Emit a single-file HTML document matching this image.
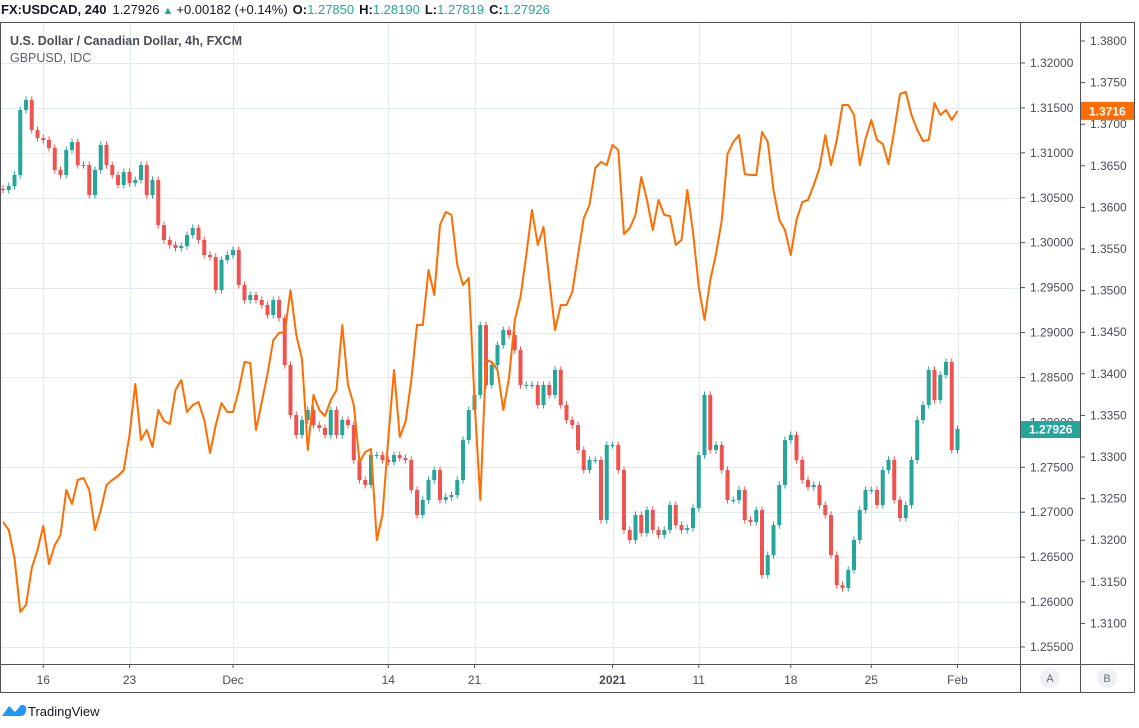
<!DOCTYPE html>
<html><head><meta charset="utf-8">
<style>
html,body{margin:0;padding:0;background:#fff;}
body{width:1139px;height:723px;overflow:hidden;font-family:"Liberation Sans",sans-serif;}
svg text{font-family:"Liberation Sans",sans-serif;}
</style></head>
<body>
<svg id="chart" width="1139" height="723" viewBox="0 0 1139 723" xmlns="http://www.w3.org/2000/svg">
  <g>
    <text x="1" y="14" font-size="13" fill="#131722"><tspan font-weight="bold">FX:USDCAD, 240</tspan><tspan dx="6">1.27926</tspan><tspan dx="3" fill="#26a69a" font-size="11">▲</tspan><tspan dx="3">+0.00182 (+0.14%)</tspan><tspan dx="5" font-weight="bold">O:</tspan><tspan fill="#26a69a">1.27850</tspan><tspan dx="5" font-weight="bold">H:</tspan><tspan fill="#26a69a">1.28190</tspan><tspan dx="5" font-weight="bold">L:</tspan><tspan fill="#26a69a">1.27819</tspan><tspan dx="5" font-weight="bold">C:</tspan><tspan fill="#26a69a">1.27926</tspan></text>
  </g>
  <g id="grid"></g>
  <g id="candles"></g>
  <path id="gbpLine" fill="none" stroke="#ff6d00" stroke-width="2" stroke-linejoin="round"/>
  <g>
    <text x="10" y="45" font-size="12.5" font-weight="bold" fill="#4a4d57">U.S. Dollar / Canadian Dollar, 4h, FXCM</text>
    <text x="10" y="62" font-size="12.5" fill="#5d606b">GBPUSD, IDC</text>
  </g>
  <g stroke="#50535e" stroke-width="1" fill="none">
    <line x1="0.5" y1="22" x2="0.5" y2="693"/>
    <line x1="0" y1="22.5" x2="1134" y2="22.5"/>
    <line x1="1020.5" y1="22" x2="1020.5" y2="693"/>
    <line x1="1080.5" y1="22" x2="1080.5" y2="693"/>
    <line x1="1134.5" y1="22" x2="1134.5" y2="693"/>
    <line x1="0" y1="664.5" x2="1134" y2="664.5"/>
    <line x1="0" y1="692.5" x2="1134" y2="692.5"/>
  </g>
  <g id="axisA"></g>
  <g id="axisB"></g>
  <g id="axisX"></g>
  <g id="lastA"></g>
  <g id="lastB"></g>
  <g>
    <circle cx="1050" cy="678" r="10" fill="#eef0f5"/>
    <text x="1050" y="682" font-size="11" text-anchor="middle" fill="#6a6d78">A</text>
  </g>
  <g>
    <circle cx="1107" cy="678" r="10" fill="#eef0f5"/>
    <text x="1107" y="682" font-size="11" text-anchor="middle" fill="#6a6d78">B</text>
  </g>
  <g>
    <path d="M2 716 L9 706 L15 712 L21 705 Q27 704 26 711 Q25 716 21 716 Z" fill="#2196f3"/>
    <text x="28" y="716" font-size="13" fill="#131722">TradingView</text>
  </g>
</svg>
<script>
// ---- data ----
const usdcadClose = [
1.30586,1.30631,1.30753,1.31477,1.31588,1.31254,1.31165,1.31143,1.31054,1.30809,
1.30753,1.31031,1.31120,1.30864,1.30864,1.30530,1.30809,1.31087,1.30864,1.30753,
1.30642,1.30786,1.30664,1.30697,1.30864,1.30530,1.30697,1.30196,1.30030,1.29974,
1.29940,1.29963,1.30085,1.30163,1.30030,1.29863,1.29840,1.29473,1.29807,1.29863,
1.29918,1.29529,1.29362,1.29417,1.29362,1.29306,1.29195,1.29362,1.29161,1.28638,
1.28082,1.27859,1.28026,1.28137,1.27970,1.27937,1.27859,1.28137,1.27859,1.28026,
1.27970,1.27581,1.27358,1.27303,1.27636,1.27636,1.27581,1.27558,1.27636,1.27603,
1.27581,1.27247,1.26969,1.27136,1.27358,1.27469,1.27136,1.27169,1.27191,1.27358,
1.27803,1.28137,1.28304,1.29083,1.28416,1.28638,1.28861,1.29028,1.28972,1.28805,
1.28416,1.28416,1.28416,1.28193,1.28416,1.28304,1.28583,1.28193,1.28026,1.27970,
1.27692,1.27469,1.27581,1.27581,1.26913,1.27748,1.27748,1.27469,1.26802,1.26690,
1.26969,1.26768,1.27024,1.26802,1.26746,1.26802,1.27080,1.26857,1.26802,1.26824,
1.27047,1.27636,1.28304,1.27692,1.27748,1.27469,1.27136,1.27136,1.27247,1.26913,
1.26891,1.27024,1.26301,1.26523,1.26857,1.27303,1.27803,1.27859,1.27581,1.27358,
1.27280,1.27303,1.27080,1.26969,1.26523,1.26189,1.26156,1.26356,1.26690,1.27024,
1.27247,1.27247,1.27080,1.27469,1.27581,1.27136,1.26935,1.27080,1.27581,1.28026,
1.28193,1.28583,1.28249,1.28527,1.28672,1.27692,1.27926];
const usdcadFirstOpen = 1.30600;
const gbpusd = [
1.32219,1.32123,1.31786,1.31137,1.31221,1.31666,1.31882,1.32171,1.31714,1.31942,
1.32063,1.32603,1.32435,1.32724,1.32748,1.32603,1.32123,1.32363,1.32664,1.32724,
1.32772,1.32844,1.33265,1.33878,1.33204,1.33325,1.33120,1.33565,1.33433,1.33397,
1.33805,1.33926,1.33541,1.33625,1.33661,1.33445,1.33048,1.33385,1.33649,1.33541,
1.33541,1.33805,1.34142,1.34130,1.33325,1.33661,1.33998,1.34406,1.34490,1.34503,
1.35007,1.34466,1.34178,1.33084,1.33745,1.33565,1.33493,1.33685,1.33805,1.34587,
1.33866,1.33625,1.32940,1.33060,1.33096,1.32003,1.32303,1.33228,1.34046,1.33241,
1.33421,1.33926,1.34587,1.34587,1.35248,1.34947,1.35789,1.35945,1.35909,1.35308,
1.35067,1.35152,1.33685,1.32483,1.34166,1.34142,1.34046,1.33565,1.33950,1.34647,
1.34923,1.35428,1.35969,1.35548,1.35764,1.35127,1.34527,1.34827,1.34827,1.34983,
1.35428,1.35873,1.36029,1.36474,1.36546,1.36510,1.36750,1.36690,1.35680,1.35753,
1.35909,1.36365,1.36089,1.35728,1.36089,1.35909,1.35897,1.35548,1.35608,1.36209,
1.35704,1.35043,1.34647,1.35127,1.35440,1.35849,1.36642,1.36786,1.36870,1.36401,
1.36390,1.36390,1.36906,1.36786,1.36209,1.35849,1.35728,1.35428,1.35849,1.36065,
1.36089,1.36269,1.36474,1.36870,1.36510,1.36810,1.37231,1.37231,1.37111,1.36510,
1.36822,1.37051,1.36810,1.36762,1.36522,1.36930,1.37363,1.37387,1.37111,1.36930,
1.36798,1.36810,1.37255,1.37111,1.37171,1.37051,1.37160];
const usdcadTicks = ["1.32000","1.31500","1.31000","1.30500","1.30000","1.29500","1.29000","1.28500","1.28000","1.27500","1.27000","1.26500","1.26000","1.25500"];
const gbpTicks = ["1.3800","1.3750","1.3700","1.3650","1.3600","1.3550","1.3500","1.3450","1.3400","1.3350","1.3300","1.3250","1.3200","1.3150","1.3100"];
const dateLabels = ["16","23","Dec","14","21","2021","11","18","25","Feb"];
const dateBars = [7,22,40,67,82,106,121,137,151,166];

// ---- scales ----
const yA = v => 63 + (1.32 - v) / 0.005 * 44.92;
const yB = v => 41 + (1.38 - v) / 0.005 * 41.6;
const xBar = i => 3 + i * 5.75;
const NS = "http://www.w3.org/2000/svg";
function mk(tag, attrs, parent){ const e=document.createElementNS(NS,tag); for(const k in attrs) e.setAttribute(k,attrs[k]); parent.appendChild(e); return e; }

const grid = document.getElementById('grid');
usdcadTicks.forEach(t=>{
  const y = Math.round(yA(parseFloat(t)))+0.5;
  if (t==="1.28000") return;
  const l = mk('line',{x1:0,x2:1020,y1:y,y2:y,stroke:'#e3ebf1','stroke-width':1},grid);
  
  
});
dateBars.forEach(b=>{
  const x = Math.round(xBar(b))+0.5;
  const l = mk('line',{x1:x,x2:x,y1:23,y2:664,stroke:'#e3ebf1','stroke-width':1},grid);
  
  
});

// candles
const cg = document.getElementById('candles');
usdcadClose.forEach((c,i)=>{
  const o = i===0 ? usdcadFirstOpen : usdcadClose[i-1];
  const up = c >= o;
  const col = up ? '#26a69a' : '#ef5350';
  const hi = Math.max(o,c) + 0.0004, lo = Math.min(o,c) - 0.0004;
  const x = xBar(i);
  const g = mk('g',{},cg);
  
  
  mk('line',{x1:x,x2:x,y1:yA(hi),y2:yA(lo),stroke:col,'stroke-width':1},g);
  const top = yA(Math.max(o,c)), bot = yA(Math.min(o,c));
  mk('rect',{x:x-2,y:top,width:4,height:Math.max(1,bot-top),fill:col},g);
});

// gbp line
document.getElementById('gbpLine').setAttribute('d', gbpusd.map((v,i)=>(i?'L':'M')+xBar(i).toFixed(1)+' '+yB(v).toFixed(1)).join(' '));

// axes
const aA = document.getElementById('axisA');
usdcadTicks.forEach(t=>{
  const y = yA(parseFloat(t));
  mk('line',{x1:1020,x2:1025,y1:y,y2:y,stroke:'#50535e'},aA);
  const tx = mk('text',{x:1030,y:y+4,'font-size':12,fill:'#4a4d57'},aA);
  tx.textContent = t;
  
  
});
const aB = document.getElementById('axisB');
gbpTicks.forEach(t=>{
  const y = yB(parseFloat(t));
  mk('line',{x1:1080,x2:1085,y1:y,y2:y,stroke:'#50535e'},aB);
  const tx = mk('text',{x:1090,y:y+4,'font-size':12,fill:'#4a4d57'},aB);
  tx.textContent = t;
  
  
});
const aX = document.getElementById('axisX');
dateLabels.forEach((t,k)=>{
  const x = xBar(dateBars[k]);
  mk('line',{x1:x,x2:x,y1:664,y2:668,stroke:'#50535e'},aX);
  const tx = mk('text',{x:x,y:684,'font-size':12,'text-anchor':'middle',fill:'#4a4d57','font-weight':t==='2021'?'bold':'normal'},aX);
  tx.textContent = t;
  
  
});

// last price labels
const lastA = usdcadClose[usdcadClose.length-1];
const ya = yA(lastA);
const gA = document.getElementById('lastA');
mk('rect',{x:1021,y:ya-8,width:59,height:17,fill:'#26a69a'},gA);
mk('text',{x:1029,y:ya+4.5,'font-size':12,'font-weight':'bold',fill:'#fff'},gA).textContent = lastA.toFixed(5);
const lastB = gbpusd[gbpusd.length-1];
const yb = yB(lastB);
const gB = document.getElementById('lastB');
mk('rect',{x:1081,y:yb-9,width:53,height:18,fill:'#ff6d00'},gB);
mk('text',{x:1089,y:yb+4.5,'font-size':12,'font-weight':'bold',fill:'#fff'},gB).textContent = lastB.toFixed(4);
</script>
</body></html>
